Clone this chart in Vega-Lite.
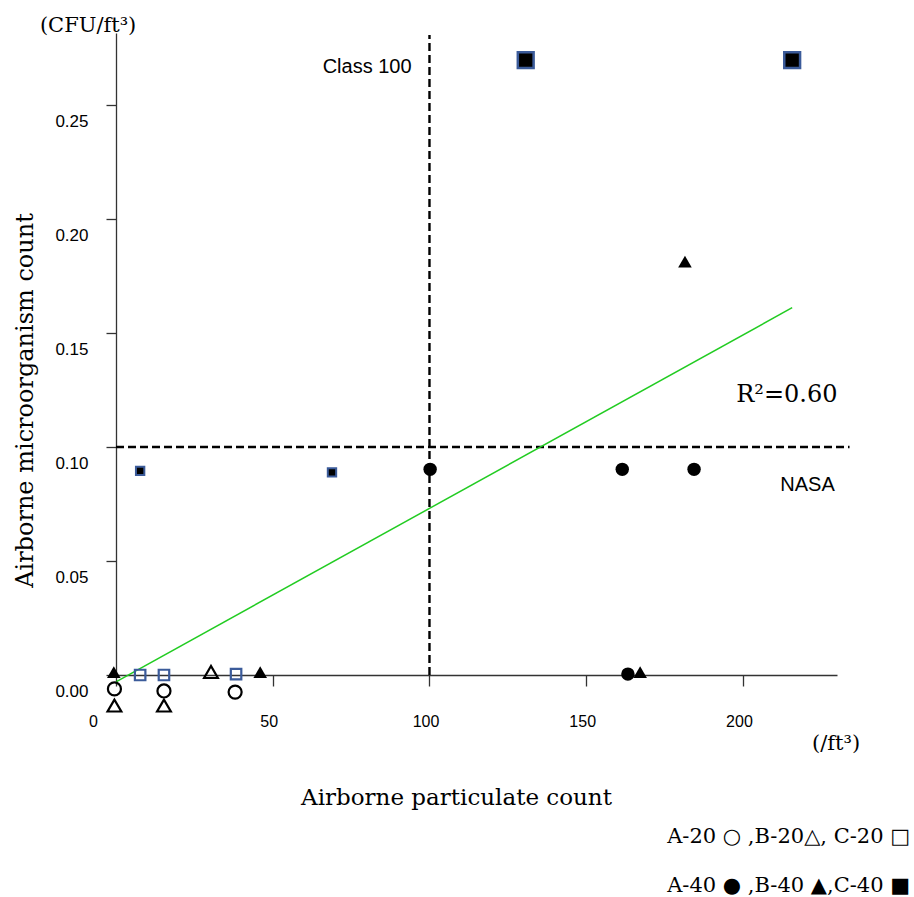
{
  "$schema": "https://vega.github.io/schema/vega-lite/v6.json",
  "width": 721,
  "height": 642,
  "autosize": {"type": "none"},
  "padding": {"left": 116, "top": 33, "right": 77, "bottom": 222},
  "background": "white",
  "config": {"view": {"stroke": null}, "axis": {"grid": false}},
  "datasets": {
    "points": [
      {"particles": -0.5, "cfu": -0.0061, "series": "A-20"},
      {"particles": 15.3, "cfu": -0.0070, "series": "A-20"},
      {"particles": 38.0, "cfu": -0.0075, "series": "A-20"},
      {"particles": -0.5, "cfu": -0.0134, "series": "B-20"},
      {"particles": 15.3, "cfu": -0.0134, "series": "B-20"},
      {"particles": 30.3, "cfu": 0.0013, "series": "B-20"},
      {"particles": 7.7, "cfu": 0.0, "series": "C-20"},
      {"particles": 15.3, "cfu": 0.0, "series": "C-20"},
      {"particles": 38.3, "cfu": 0.0004, "series": "C-20"},
      {"particles": 100.2, "cfu": 0.0902, "series": "A-40"},
      {"particles": 161.5, "cfu": 0.0902, "series": "A-40"},
      {"particles": 184.4, "cfu": 0.0902, "series": "A-40"},
      {"particles": 163.3, "cfu": 0.0004, "series": "A-40"},
      {"particles": -0.7, "cfu": 0.0013, "series": "B-40"},
      {"particles": 46.0, "cfu": 0.0013, "series": "B-40"},
      {"particles": 167.2, "cfu": 0.0013, "series": "B-40"},
      {"particles": 181.5, "cfu": 0.1813, "series": "B-40"},
      {"particles": 7.7, "cfu": 0.0895, "series": "C-40"},
      {"particles": 68.9, "cfu": 0.0889, "series": "C-40"},
      {"particles": 130.7, "cfu": 0.2697, "series": "C-40"},
      {"particles": 215.7, "cfu": 0.2697, "series": "C-40"}
    ],
    "hline": [{"particles": 0, "particles_end": 234, "cfu": 0.1}],
    "vline": [{"particles": 100, "cfu": 0, "cfu_end": 0.2807}],
    "fit": [{"particles": 0, "cfu": -0.003, "particles_end": 215.7, "cfu_end": 0.1611}],
    "ref_labels": [
      {"particles": 80.1, "cfu": 0.264, "label": "Class 100"},
      {"particles": 220.6, "cfu": 0.0808, "label": "NASA"}
    ],
    "fit_label": [{"particles": 214.0, "cfu": 0.1199, "label": "R²=0.60"}],
    "unit_labels": [
      {"particles": -8.9, "cfu": 0.282, "label": "(CFU/ft³)"},
      {"particles": 229.7, "cfu": -0.0329, "label": "(/ft³)"}
    ],
    "legend_lines": [
      {"particles": 253.3, "cfu": -0.0737, "label": "A-20 ○ ,B-20△, C-20 □"},
      {"particles": 253.3, "cfu": -0.0952, "label": "A-40 ● ,B-40 ▲,C-40 ■"}
    ]
  },
  "layer": [
    {
      "data": {"name": "hline"},
      "mark": {"type": "rule", "color": "black", "strokeWidth": 2.4, "strokeDash": [8, 4]},
      "encoding": {
        "x": {
          "field": "particles", "type": "quantitative",
          "scale": {"domain": [0, 230], "nice": false, "zero": false},
          "axis": {
            "title": "Airborne particulate count",
            "values": [0, 50, 100, 150, 200],
            "labelFont": "Liberation Sans", "labelFontSize": 16, "labelColor": "#000",
            "labelPadding": 27, "labelFlush": false, "labelOverlap": false,
            "labelOffset": {"condition": {"test": "datum.value === 0", "value": -23}, "value": -4},
            "tickSize": 11, "tickColor": "#333", "tickWidth": 1.3,
            "domainColor": "#333", "domainWidth": 1.3,
            "titleFont": "DejaVu Serif", "titleFontSize": 23, "titleFontWeight": "normal",
            "titleColor": "#000", "titleX": 340, "titleY": 129,
            "titleBaseline": "alphabetic", "titleAlign": "center", "titleAnchor": null
          }
        },
        "x2": {"field": "particles_end"},
        "y": {
          "field": "cfu", "type": "quantitative",
          "scale": {"domain": [0, 0.28158], "nice": false, "zero": false},
          "axis": {
            "title": "Airborne microorganism count",
            "values": [0, 0.05, 0.1, 0.15, 0.2, 0.25],
            "format": ".2f",
            "labelFont": "Liberation Sans", "labelFontSize": 17, "labelColor": "#000",
            "labelPadding": 18, "labelOffset": 16, "labelOverlap": false, "labelFlush": false,
            "tickSize": 10, "tickColor": "#333", "tickWidth": 1.3,
            "domainColor": "#333", "domainWidth": 1.3,
            "titleFont": "DejaVu Serif", "titleFontSize": 24, "titleFontWeight": "normal",
            "titleColor": "#000", "titleX": -84, "titleY": 367, "titleAngle": -90,
            "titleBaseline": "alphabetic", "titleAlign": "center", "titleAnchor": null
          }
        }
      }
    },
    {
      "data": {"name": "vline"},
      "mark": {"type": "rule", "color": "black", "strokeWidth": 2.4, "strokeDash": [8, 4]},
      "encoding": {
        "x": {"field": "particles", "type": "quantitative"},
        "y": {"field": "cfu", "type": "quantitative"},
        "y2": {"field": "cfu_end"}
      }
    },
    {
      "data": {"name": "fit"},
      "mark": {"type": "rule", "color": "#22cc22", "strokeWidth": 1.5},
      "encoding": {
        "x": {"field": "particles", "type": "quantitative"},
        "y": {"field": "cfu", "type": "quantitative"},
        "x2": {"field": "particles_end"},
        "y2": {"field": "cfu_end"}
      }
    },
    {
      "data": {"name": "points"},
      "transform": [{"filter": "datum.series === 'A-20'"}],
      "mark": {"type": "point", "shape": "circle", "filled": false, "stroke": "black", "strokeWidth": 2.2, "size": 170, "opacity": 1},
      "encoding": {
        "x": {"field": "particles", "type": "quantitative"},
        "y": {"field": "cfu", "type": "quantitative"}
      }
    },
    {
      "data": {"name": "points"},
      "transform": [{"filter": "datum.series === 'B-20'"}],
      "mark": {"type": "point", "shape": "triangle-up", "filled": false, "stroke": "black", "strokeWidth": 2.2, "size": 190, "opacity": 1},
      "encoding": {
        "x": {"field": "particles", "type": "quantitative"},
        "y": {"field": "cfu", "type": "quantitative"}
      }
    },
    {
      "data": {"name": "points"},
      "transform": [{"filter": "datum.series === 'C-20'"}],
      "mark": {"type": "point", "shape": "square", "filled": false, "stroke": "#3B5B9A", "strokeWidth": 2.2, "size": 110, "opacity": 1},
      "encoding": {
        "x": {"field": "particles", "type": "quantitative"},
        "y": {"field": "cfu", "type": "quantitative"}
      }
    },
    {
      "data": {"name": "points"},
      "transform": [{"filter": "datum.series === 'A-40'"}],
      "mark": {"type": "point", "shape": "circle", "filled": true, "color": "black", "size": 180, "opacity": 1},
      "encoding": {
        "x": {"field": "particles", "type": "quantitative"},
        "y": {"field": "cfu", "type": "quantitative"}
      }
    },
    {
      "data": {"name": "points"},
      "transform": [{"filter": "datum.series === 'B-40'"}],
      "mark": {"type": "point", "shape": "triangle-up", "filled": true, "color": "black", "size": 185, "opacity": 1},
      "encoding": {
        "x": {"field": "particles", "type": "quantitative"},
        "y": {"field": "cfu", "type": "quantitative"}
      }
    },
    {
      "data": {"name": "points"},
      "transform": [{"filter": "datum.series === 'C-40' && datum.cfu < 0.2"}],
      "mark": {"type": "square", "color": "black", "stroke": "#3B5B9A", "strokeWidth": 2, "size": 70, "opacity": 1},
      "encoding": {
        "x": {"field": "particles", "type": "quantitative"},
        "y": {"field": "cfu", "type": "quantitative"}
      }
    },
    {
      "data": {"name": "points"},
      "transform": [{"filter": "datum.series === 'C-40' && datum.cfu >= 0.2"}],
      "mark": {"type": "square", "color": "black", "stroke": "#3B5B9A", "strokeWidth": 2.5, "size": 250, "opacity": 1},
      "encoding": {
        "x": {"field": "particles", "type": "quantitative"},
        "y": {"field": "cfu", "type": "quantitative"}
      }
    },
    {
      "data": {"name": "ref_labels"},
      "mark": {"type": "text", "font": "Liberation Sans", "fontSize": 20, "color": "black", "align": "center", "baseline": "alphabetic"},
      "encoding": {
        "x": {"field": "particles", "type": "quantitative"},
        "y": {"field": "cfu", "type": "quantitative"},
        "text": {"field": "label"}
      }
    },
    {
      "data": {"name": "fit_label"},
      "mark": {"type": "text", "font": "DejaVu Serif", "fontSize": 24, "color": "black", "align": "center", "baseline": "alphabetic"},
      "encoding": {
        "x": {"field": "particles", "type": "quantitative"},
        "y": {"field": "cfu", "type": "quantitative"},
        "text": {"field": "label"}
      }
    },
    {
      "data": {"name": "unit_labels"},
      "mark": {"type": "text", "font": "DejaVu Serif", "fontSize": 21, "color": "black", "align": "center", "baseline": "alphabetic"},
      "encoding": {
        "x": {"field": "particles", "type": "quantitative"},
        "y": {"field": "cfu", "type": "quantitative"},
        "text": {"field": "label"}
      }
    },
    {
      "data": {"name": "legend_lines"},
      "mark": {"type": "text", "font": "DejaVu Serif", "fontSize": 21, "color": "black", "align": "right", "baseline": "alphabetic"},
      "encoding": {
        "x": {"field": "particles", "type": "quantitative"},
        "y": {"field": "cfu", "type": "quantitative"},
        "text": {"field": "label"}
      }
    }
  ]
}
